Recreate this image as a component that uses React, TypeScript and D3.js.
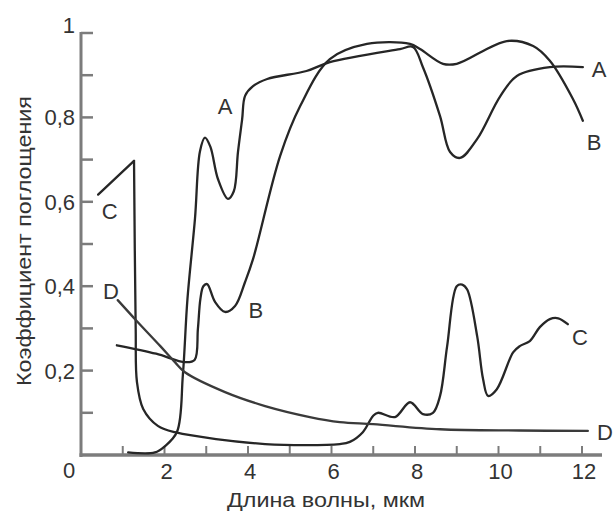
import React from "react";
import * as d3 from "d3";

// Absorption coefficient vs wavelength (µm) for four materials A–D
const seriesA: [number, number][] = [
  [1.13, 0.006], [1.77, 0.006], [2.0, 0.02], [2.3, 0.055], [2.44, 0.19],
  [2.55, 0.37], [2.73, 0.56], [2.85, 0.72], [2.97, 0.752], [3.1, 0.73],
  [3.28, 0.654], [3.52, 0.607], [3.66, 0.625], [3.76, 0.718], [3.86, 0.796],
  [3.93, 0.851], [4.12, 0.874], [4.46, 0.891], [5.4, 0.91], [5.96, 0.931],
  [7.64, 0.962], [7.95, 0.967], [8.19, 0.919], [8.6, 0.803], [8.84, 0.718],
  [9.08, 0.704], [9.49, 0.749], [10.04, 0.85], [10.44, 0.898], [11.23, 0.919],
  [12.02, 0.919],
];

const seriesB: [number, number][] = [
  [0.86, 0.26], [1.8, 0.24], [2.49, 0.22], [2.72, 0.225], [2.8, 0.299],
  [2.86, 0.37], [2.93, 0.4], [3.02, 0.405], [3.21, 0.363], [3.45, 0.339],
  [3.69, 0.353], [3.93, 0.41], [4.12, 0.464], [4.77, 0.709], [5.25, 0.827],
  [5.96, 0.938], [6.85, 0.974], [7.88, 0.974], [8.12, 0.962], [8.67, 0.927],
  [9.0, 0.927], [10.2, 0.981], [10.83, 0.969], [11.23, 0.934], [11.78, 0.844],
  [12.02, 0.792],
];

const seriesC: [number, number][] = [
  [0.41, 0.617], [1.27, 0.697], [1.31, 0.3], [1.34, 0.173], [1.49, 0.109],
  [1.84, 0.069], [2.25, 0.054], [4.41, 0.026], [6.2, 0.026], [6.44, 0.031],
  [6.75, 0.054], [6.99, 0.092], [7.11, 0.1], [7.52, 0.09], [7.88, 0.125],
  [8.19, 0.097], [8.43, 0.1], [8.6, 0.14], [8.77, 0.258], [9.0, 0.4],
  [9.13, 0.404], [9.25, 0.392], [9.49, 0.281], [9.63, 0.18], [9.75, 0.14],
  [9.96, 0.156], [10.35, 0.243], [10.51, 0.258], [10.75, 0.27], [10.99, 0.303],
  [11.23, 0.322], [11.43, 0.324], [11.66, 0.31],
];

const seriesD: [number, number][] = [
  [0.88, 0.367], [1.34, 0.317], [1.9, 0.258], [2.25, 0.22], [2.49, 0.196],
  [3.45, 0.149], [4.41, 0.116], [5.48, 0.09], [6.2, 0.078], [7.0, 0.073],
  [8.6, 0.061], [10.5, 0.058], [12.14, 0.057],
];

const yTickLabels = ["0", "0,2", "0,4", "0,6", "0,8", "1"];
const yTickValues = [0, 0.2, 0.4, 0.6, 0.8, 1];
const xTickLabels = ["2", "4", "6", "8", "10", "12"];
const xTickValues = [2, 4, 6, 8, 10, 12];

const curveLabels = [
  { text: "A", x: 3.45, y: 0.827 },
  { text: "A", x: 12.41, y: 0.915 },
  { text: "B", x: 4.19, y: 0.344 },
  { text: "B", x: 12.29, y: 0.742 },
  { text: "C", x: 0.69, y: 0.578 },
  { text: "C", x: 11.95, y: 0.28 },
  { text: "D", x: 0.72, y: 0.389 },
  { text: "D", x: 12.55, y: 0.055 },
];

const xTitle = "Длина волны, мкм";
const yTitle = "Коэффициент поглощения";

const W = 614;
const H = 515;
const FONT = "'Liberation Sans', Arial, sans-serif";
const AXIS = "#7c7c7c";
const INK = "#262626";

export default function App() {
  const x = d3.scaleLinear().domain([0, 12]).range([81, 582]);
  const y = d3.scaleLinear().domain([0, 1]).range([455, 33]);

  const smooth = d3
    .line<[number, number]>()
    .x((d) => x(d[0]))
    .y((d) => y(d[1]))
    .curve(d3.curveCatmullRom.alpha(0.5));
  const straight = d3
    .line<[number, number]>()
    .x((d) => x(d[0]))
    .y((d) => y(d[1]));

  const minorY = d3.range(1, 11).map((i) => i / 10);
  const minorX = d3.range(1, 13);

  return (
    <svg
      width={W}
      height={H}
      style={{ position: "absolute", left: 0, top: 0, background: "#fff" }}
      fontFamily={FONT}
    >
      {/* axes */}
      <line x1={x(0)} x2={x(0)} y1={y(1) - 1} y2={y(0) + 2} stroke={AXIS} strokeWidth={3} />
      <line x1={x(0) - 1.5} x2={602} y1={y(0)} y2={y(0)} stroke={AXIS} strokeWidth={3.5} />
      {minorY.map((v) => (
        <line key={"ty" + v} x1={x(0)} x2={x(0) + 12} y1={y(v)} y2={y(v)} stroke={AXIS} strokeWidth={2.5} />
      ))}
      {minorX.map((v) => (
        <line key={"tx" + v} x1={x(v)} x2={x(v)} y1={y(0)} y2={y(0) - 9} stroke={AXIS} strokeWidth={2} />
      ))}

      {/* tick labels */}
      {yTickValues.map((v, i) =>
        v === 0 ? (
          <text key={"ly" + i} x={69} y={478} textAnchor="middle" fontSize={22} fill="#333">
            {yTickLabels[i]}
          </text>
        ) : (
          <text
            key={"ly" + i}
            x={75}
            y={v === 1 ? y(v) : y(v) + 8}
            textAnchor="end"
            fontSize={22}
            fill="#333"
          >
            {yTickLabels[i]}
          </text>
        )
      )}
      {xTickValues.map((v, i) => (
        <text key={"lx" + i} x={x(v) + 2} y={479} textAnchor="middle" fontSize={22} fill="#333">
          {xTickLabels[i]}
        </text>
      ))}

      {/* axis titles */}
      <text
        x={326}
        y={507}
        textAnchor="middle"
        fontSize={20}
        fill="#333"
        textLength={198}
        lengthAdjust="spacingAndGlyphs"
      >
        {xTitle}
      </text>
      <text
        transform={`translate(31, 241) rotate(-90)`}
        textAnchor="middle"
        fontSize={21}
        fill="#333"
        textLength={290}
        lengthAdjust="spacingAndGlyphs"
      >
        {yTitle}
      </text>

      {/* curves */}
      <g fill="none" stroke={INK} strokeWidth={2.3} strokeLinejoin="round" strokeLinecap="round">
        <path d={smooth(seriesA) ?? ""} />
        <path d={smooth(seriesB) ?? ""} />
        <path d={straight(seriesC.slice(0, 2)) ?? ""} />
        <path d={smooth(seriesC.slice(1)) ?? ""} />
        <path d={smooth(seriesD) ?? ""} stroke="#3a3a3a" />
      </g>

      {/* curve labels */}
      {curveLabels.map((l, i) => (
        <text
          key={"cl" + i}
          x={x(l.x)}
          y={y(l.y)}
          dy="0.36em"
          textAnchor="middle"
          fontSize={22}
          fill="#333"
        >
          {l.text}
        </text>
      ))}
    </svg>
  );
}
